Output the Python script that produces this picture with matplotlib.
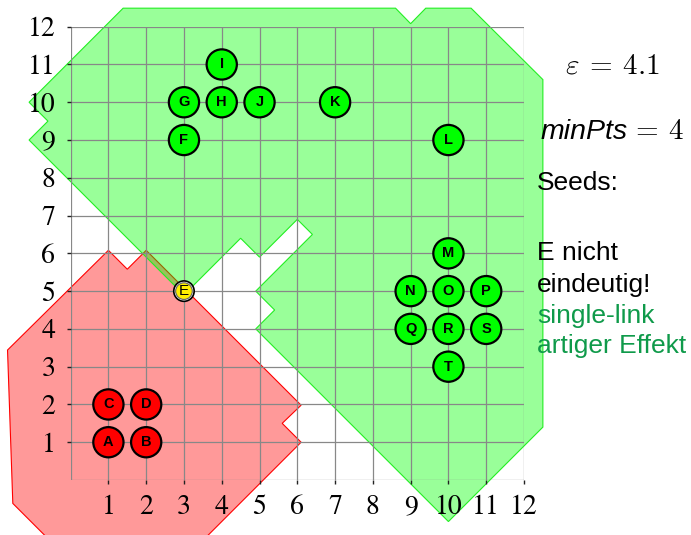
import matplotlib
matplotlib.use("Agg")
import matplotlib.pyplot as plt
from matplotlib.patches import Polygon, Circle

# points of the DBSCAN example
point_labels = list("ABCDEFGHIJKLMNOPQRST")
point_x = [1, 2, 1, 2, 3, 3, 3, 4, 4, 5, 7, 10, 10, 9, 10, 11, 9, 10, 11, 10]
point_y = [1, 1, 2, 2, 5, 9, 10, 10, 11, 10, 10, 9, 6, 5, 5, 5, 4, 4, 4, 3]
point_group = ["red"] * 4 + ["border"] + ["green"] * 15

# outline of the eps-region of the red cluster
red_x = [1.0, 1.5, 2.0, 6.1, 5.6, 6.1, 3.4, -0.45, -1.53, -1.67]
red_y = [6.08, 5.58, 6.08, 1.98, 1.5, 1.0, -1.7, -1.7, -0.62, 3.44]

# outline of the eps-region of the green cluster
green_x = [1.39, -1.1, -0.6, -1.1, 3.0, 4.5, 5.0, 6.0, 6.4, 4.9, 5.4, 4.9,
           10.0, 12.5, 12.5, 10.6, 9.4, 9.0, 8.6]
green_y = [12.49, 10.0, 9.5, 9.0, 4.9, 6.4, 5.9, 6.9, 6.5, 5.0, 4.5, 4.0,
           -1.1, 1.4, 10.6, 12.49, 12.49, 12.08, 12.49]

ticks = list(range(1, 13))

plt.rcParams['mathtext.fontset'] = 'cm'

fig = plt.figure(figsize=(6.91, 5.35), dpi=100)
ax = fig.add_axes([0.1022, 0.1028, 0.6561, 0.8473])
ax.set_xlim(0, 12)
ax.set_ylim(0, 12)

# regions
ax.add_patch(Polygon(list(zip(red_x, red_y)), closed=True, facecolor=(1, 0, 0, 0.4),
                     edgecolor='red', lw=0.8, clip_on=False, zorder=2))
ax.add_patch(Polygon(list(zip(green_x, green_y)), closed=True, facecolor=(0, 1, 0, 0.4),
                     edgecolor='#22ee22', lw=0.8, clip_on=False, zorder=3))

# grid on top of the regions
for v in range(0, 13):
    ax.plot([v, v], [0, 12], color='#888888', lw=0.9, zorder=4)
    ax.plot([0, 12], [v, v], color='#888888', lw=0.9, zorder=4)
for s in ax.spines.values():
    s.set_visible(False)

# points
for lab, x, y, g in zip(point_labels, point_x, point_y, point_group):
    if g == "border":
        ax.add_patch(Circle((x, y), 0.27, facecolor='white', edgecolor='black', lw=1.2, zorder=5))
        ax.add_patch(Circle((x, y), 0.22, facecolor='#ffee00', edgecolor='#666666', lw=0.8, zorder=6))
        ax.text(x, y, lab, ha='center', va='center', fontsize=11, family='Liberation Sans', zorder=7)
    else:
        fc = '#ff0000' if g == "red" else '#00ff00'
        ax.add_patch(Circle((x, y), 0.4, facecolor=fc, edgecolor='black', lw=1.6, zorder=5))
        ax.text(x, y, lab, ha='center', va='center', fontsize=10.5, fontweight='bold',
                family='Liberation Sans', zorder=7)

ax.set_xticks(ticks)
ax.set_yticks(ticks)
ax.set_xticklabels([str(t) for t in ticks], family='STIXGeneral', fontsize=20)
ax.set_yticklabels([str(t) for t in ticks], family='STIXGeneral', fontsize=20)
ax.tick_params(length=3, width=1, color='#222222', pad=8)
ax.xaxis.set_zorder(10)
ax.yaxis.set_zorder(10)

# side notes
sans = 'Liberation Sans'
fig.text(0.887, 0.863, r'$\varepsilon\:=\:4.1$', ha='center', va='baseline', fontsize=21)
fig.text(0.908, 0.740, 'minPts', ha='right', va='baseline', fontsize=20.5, family=sans, style='italic')
fig.text(0.990, 0.740, r'$=\:4$', ha='right', va='baseline', fontsize=21)
fig.text(0.777, 0.645, 'Seeds:', ha='left', va='baseline', fontsize=19, family=sans)
fig.text(0.777, 0.514, 'E nicht', ha='left', va='baseline', fontsize=19, family=sans)
fig.text(0.777, 0.455, 'eindeutig!', ha='left', va='baseline', fontsize=19, family=sans)
fig.text(0.777, 0.397, 'single-link', ha='left', va='baseline', fontsize=19, family=sans, color='#0f9a4a')
fig.text(0.777, 0.340, 'artiger Effekt', ha='left', va='baseline', fontsize=19, family=sans, color='#0f9a4a')

fig.savefig('out.png', dpi=100)
